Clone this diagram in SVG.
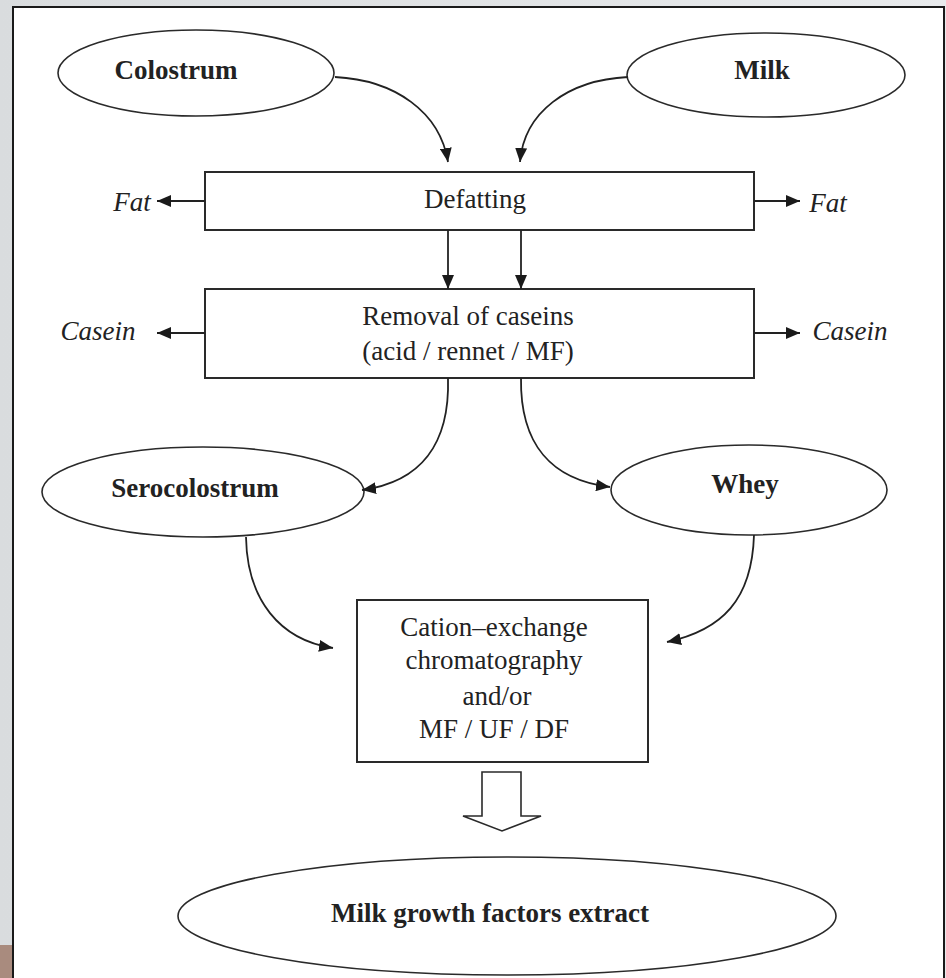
<svg xmlns="http://www.w3.org/2000/svg" width="946" height="978" viewBox="0 0 946 978">
<defs>
<marker id="ah" viewBox="0 0 14 12" refX="14" refY="6" markerWidth="14" markerHeight="12" markerUnits="userSpaceOnUse" orient="auto">
<path d="M0,0 L14,6 L0,12 z" fill="#1a1a1a"/>
</marker>
<linearGradient id="bg" x1="0" y1="0" x2="1" y2="0">
<stop offset="0" stop-color="#d9dcde"/>
<stop offset="1" stop-color="#e8eaec"/>
</linearGradient>
</defs>
<style>
.box{fill:#fff;stroke:#2a2a2a;stroke-width:2}
.ell{fill:#fff;stroke:#2a2a2a;stroke-width:1.6}
.t{font-family:"Liberation Serif","Times New Roman",serif;font-size:27px;fill:#222;text-anchor:middle}
.b{font-weight:bold}
.i{font-style:italic}
.c{fill:none;stroke:#222;stroke-width:1.8;marker-end:url(#ah)}
</style>
<rect x="0" y="0" width="946" height="978" fill="url(#bg)"/>
<rect x="0" y="945" width="13" height="33" fill="#a98b7e"/>
<rect x="13" y="7" width="931" height="975" fill="#fff" stroke="#1a1a1a" stroke-width="2"/>

<g id="colostrum"><ellipse class="ell" cx="196" cy="73" rx="138" ry="43"/><text class="t b" x="176" y="79">Colostrum</text></g>
<g id="milk"><ellipse class="ell" cx="766" cy="75" rx="139" ry="42"/><text class="t b" x="762" y="79">Milk</text></g>
<g id="defatting"><rect class="box" x="205" y="172" width="549" height="58"/><text class="t" x="475" y="208">Defatting</text></g>
<g id="fat-left"><text class="t i" x="132" y="211">Fat</text></g>
<g id="fat-right"><text class="t i" x="828" y="212">Fat</text></g>
<g id="removal"><rect class="box" x="205" y="289" width="549" height="89"/><text class="t" x="468" y="325">Removal of caseins</text><text class="t" x="468" y="360">(acid / rennet / MF)</text></g>
<g id="casein-left"><text class="t i" x="98" y="340">Casein</text></g>
<g id="casein-right"><text class="t i" x="850" y="340">Casein</text></g>
<g id="serocolostrum"><ellipse class="ell" cx="203" cy="492" rx="161" ry="45"/><text class="t b" x="195" y="497">Serocolostrum</text></g>
<g id="whey"><ellipse class="ell" cx="749" cy="490" rx="138" ry="45"/><text class="t b" x="745" y="493">Whey</text></g>
<g id="cation"><rect class="box" x="357" y="600" width="291" height="162"/>
<text class="t" x="494" y="636">Cation–exchange</text>
<text class="t" x="494" y="669">chromatography</text>
<text class="t" x="497" y="705">and/or</text>
<text class="t" x="494" y="738">MF / UF / DF</text></g>
<g id="extract"><ellipse class="ell" cx="507" cy="916" rx="329" ry="59"/><text class="t b" x="490" y="922">Milk growth factors extract</text></g>

<g id="connectors">
<path class="c" d="M335,77 C395,80 440,112 448,162"/>
<path class="c" d="M628,77 C568,80 524,112 520,162"/>
<path class="c" d="M205,201 L157,201"/>
<path class="c" d="M754,201 L800,201"/>
<path class="c" d="M448,230 L448,289"/>
<path class="c" d="M521,230 L521,289"/>
<path class="c" d="M205,333 L157,333"/>
<path class="c" d="M754,333 L800,333"/>
<path class="c" d="M448,378 C450,445 420,482 362,490"/>
<path class="c" d="M521,378 C520,445 552,480 610,487"/>
<path class="c" d="M246,537 C247,600 280,640 333,648"/>
<path class="c" d="M754,535 C752,600 722,630 667,642"/>
<polygon points="482,772 521,772 521,816 541,816 502,831 463,816 482,816" fill="#fff" stroke="#2a2a2a" stroke-width="1.6"/>
</g>
</svg>
